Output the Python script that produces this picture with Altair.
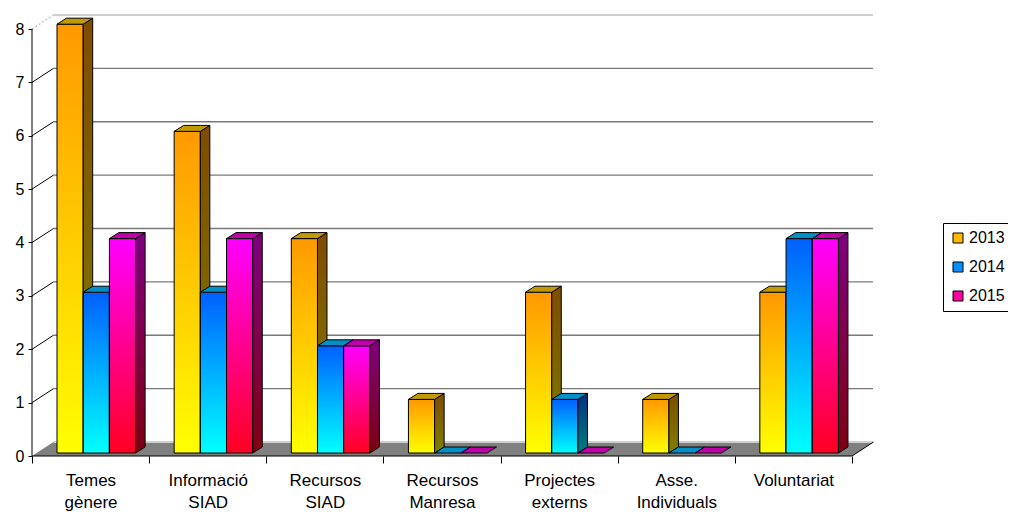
import json
import altair as alt
import pandas as pd

# ---------------- data ----------------
categories = ["Temes|gènere", "Informació|SIAD", "Recursos|SIAD", "Recursos|Manresa",
              "Projectes|externs", "Asse.|Individuals", "Voluntariat"]
years = ["2013", "2014", "2015"]
v2013 = [8, 6, 4, 1, 3, 1, 3]
v2014 = [3, 3, 2, 0, 1, 0, 4]
v2015 = [4, 4, 2, 0, 0, 0, 4]
y_ticks = [0, 1, 2, 3, 4, 5, 6, 7, 8]
series_values = [v2013, v2014, v2015]

# ---------------- geometry (pixel-based 3D projection) ----------------
PLOT_W, PLOT_H = 841, 441
KX = 820 / 7          # px per category
KY = 53.375           # px per unit
XMAX = PLOT_W / KX
YMAX = PLOT_H / KY
NCAT = len(categories)
WALL_DX, WALL_DY = 21.5 / KX, 14 / KY
BAR_X0, BAR_W = 25 / KX, 26.2 / KX
BAR_Y0 = 3 / KY
BAR_DX, BAR_DY = 9.5 / KX, 6 / KY
BAR_K = 53.6 / KY     # bars drawn slightly taller (perspective)

FONT = "Liberation Sans"

# colours: (front top, front bottom), (side top, side bottom), top face
styles = [
    (("#FF9900", "#FFFF00"), ("#7F4C00", "#7F7F00"), "#C09A00"),
    (("#0060FF", "#00FFFF"), ("#002F80", "#008080"), "#0090C8"),
    (("#FF00FF", "#FF0022"), ("#7F007F", "#7F0011"), "#C000A8"),
]
legend_colors = ["#FFB800", "#0090FF", "#FF00A0"]


def grad(c1, c2):
    return alt.Gradient(gradient="linear",
                        stops=[alt.GradientStop(color=c1, offset=0),
                               alt.GradientStop(color=c2, offset=1)],
                        x1=0, x2=0, y1=0, y2=1)


X = alt.X("x:Q", scale=alt.Scale(domain=[0, XMAX], nice=False, zero=False), title=None,
          axis=alt.Axis(values=list(range(NCAT + 1)), tickSize=7, tickColor="black", tickWidth=1,
                        domain=False, grid=False,
                        labelExpr="datum.value < %d ? split(%s[datum.value], '|') : ''"
                                  % (NCAT, json.dumps(categories, ensure_ascii=False)),
                        labelOffset=KX / 2, labelFontSize=17, labelFont=FONT, labelColor="black",
                        labelLineHeight=22, labelPadding=9, labelOverlap=False,
                        labelBound=False, labelFlush=False, labelAlign="center"))
Y = alt.Y("y:Q", scale=alt.Scale(domain=[0, YMAX], nice=False, zero=False), title=None,
          axis=alt.Axis(values=y_ticks, format="d", tickSize=4, tickColor="black", domain=False,
                        grid=False, labelFontSize=16, labelFont=FONT, labelColor="black",
                        labelPadding=4))

layers = []

# floor
floor = pd.DataFrame({"x": [0, WALL_DX, NCAT, NCAT + WALL_DX],
                      "y": [0, 0, 0, WALL_DY],
                      "y2": [0, WALL_DY, WALL_DY, WALL_DY]})
layers.append(alt.Chart(floor).mark_area(orient="vertical", fill="#808080")
              .encode(x=X, y=Y, y2="y2:Q"))

# back wall lines
lv = pd.DataFrame({"level": y_ticks})
lv["x"] = WALL_DX
lv["x2"] = XMAX
lv["y"] = lv["level"] + WALL_DY
lv["x0"] = 0.0
lv["y0"] = lv["level"].astype(float)
inner = lv[(lv.level > 0) & (lv.level < 8)]
outer = lv[(lv.level == 0) | (lv.level == 8)]
layers.append(alt.Chart(inner).mark_rule(color="#7a7a7a", strokeWidth=1.4)
              .encode(x="x:Q", x2="x2:Q", y="y:Q"))
layers.append(alt.Chart(outer).mark_rule(color="#cfcfcf", strokeWidth=2)
              .encode(x="x:Q", x2="x2:Q", y="y:Q"))
layers.append(alt.Chart(inner).mark_rule(color="black", strokeWidth=1)
              .encode(x="x0:Q", x2="x:Q", y="y0:Q", y2="y:Q"))
layers.append(alt.Chart(lv[lv.level == 8]).mark_rule(color="#c8c8c8", strokeWidth=1.5, strokeDash=[2, 2])
              .encode(x="x0:Q", x2="x:Q", y="y0:Q", y2="y:Q"))

# axis lines
axes = pd.DataFrame({"x": [0.0, 0.0, NCAT], "x2": [0.0, float(NCAT), NCAT + WALL_DX],
                     "y": [0.0, 0.0, 0.0], "y2": [8.0, 0.0, WALL_DY]})
layers.append(alt.Chart(axes).mark_rule(color="black", strokeWidth=1)
              .encode(x="x:Q", x2="x2:Q", y="y:Q", y2="y2:Q"))

# bars, series by series
for s, (vals, (fc, sc, tc)) in enumerate(zip(series_values, styles)):
    front, side, top = [], [], []
    for i, v in enumerate(vals):
        left = i + BAR_X0 + s * BAR_W
        right = left + BAR_W
        base, tp = BAR_Y0, v * BAR_K + BAR_Y0
        bid = f"{s}-{i}"
        if v > 0:
            front.append({"x": left, "x2": right, "y": base, "y2": tp})
            side.append({"id": bid, "x": right, "y": base, "y2": tp})
            side.append({"id": bid, "x": right + BAR_DX, "y": base + BAR_DY, "y2": tp + BAR_DY})
        top.append({"id": bid, "x": left, "y": tp, "y2": tp})
        top.append({"id": bid, "x": left + BAR_DX, "y": tp, "y2": tp + BAR_DY})
        top.append({"id": bid, "x": right, "y": tp, "y2": tp + BAR_DY})
        top.append({"id": bid, "x": right + BAR_DX, "y": tp + BAR_DY, "y2": tp + BAR_DY})
    layers.append(alt.Chart(pd.DataFrame(front))
                  .mark_rect(fill=grad(*fc), stroke="black", strokeWidth=1)
                  .encode(x="x:Q", x2="x2:Q", y="y:Q", y2="y2:Q"))
    layers.append(alt.Chart(pd.DataFrame(side))
                  .mark_area(orient="vertical", fill=grad(*sc), stroke="black", strokeWidth=1)
                  .encode(x="x:Q", y="y:Q", y2="y2:Q", detail="id:N"))
    layers.append(alt.Chart(pd.DataFrame(top))
                  .mark_area(orient="vertical", fill=tc, stroke="black", strokeWidth=1)
                  .encode(x="x:Q", y="y:Q", y2="y2:Q", detail="id:N"))

# legend carrier (invisible)
leg = pd.DataFrame({"year": years, "x": [0.0] * 3, "y": [0.0] * 3})
layers.append(alt.Chart(leg).mark_square(opacity=0, size=100)
              .encode(x="x:Q", y="y:Q",
                      color=alt.Color("year:N", scale=alt.Scale(domain=years, range=legend_colors),
                                      legend=alt.Legend(title=None, orient="none", legendX=911, legendY=208,
                                                        strokeColor="black", fillColor="white", padding=7,
                                                        symbolType="square", symbolSize=100,
                                                        symbolStrokeColor="black", symbolStrokeWidth=1,
                                                        symbolOpacity=1, labelFontSize=16, labelFont=FONT,
                                                        labelColor="black", rowPadding=13, labelOffset=3))))

chart = alt.layer(*layers).properties(
    width=PLOT_W, height=PLOT_H,
    autosize=alt.AutoSizeParams(type="none"),
    padding={"left": 24, "top": 7, "right": 135, "bottom": 56},
    background="white",
).configure_view(stroke=None)

chart.save("out.html", embed_options={"renderer": "svg", "actions": False})
